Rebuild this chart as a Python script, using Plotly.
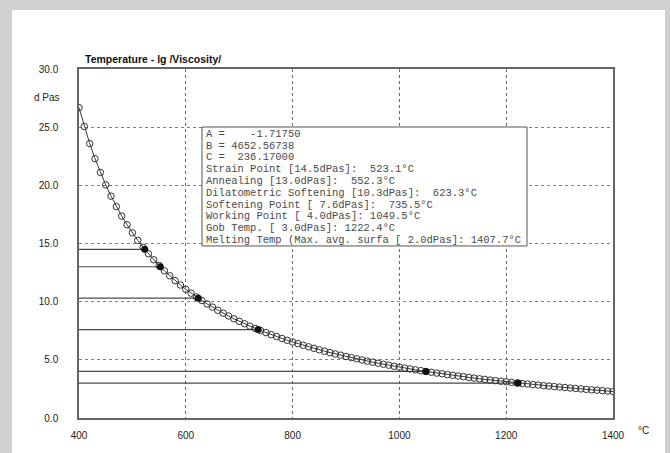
import plotly.graph_objects as go

# Viscosity curve: temperature (°C) and lg(viscosity / dPas), VFT fit
temps = [400, 410, 420, 430, 440, 450, 460, 470, 480, 490,
         500, 510, 520, 530, 540, 550, 560, 570, 580, 590,
         600, 610, 620, 630, 640, 650, 660, 670, 680, 690,
         700, 710, 720, 730, 740, 750, 760, 770, 780, 790,
         800, 810, 820, 830, 840, 850, 860, 870, 880, 890,
         900, 910, 920, 930, 940, 950, 960, 970, 980, 990,
         1000, 1010, 1020, 1030, 1040, 1050, 1060, 1070, 1080, 1090,
         1100, 1110, 1120, 1130, 1140, 1150, 1160, 1170, 1180, 1190,
         1200, 1210, 1220, 1230, 1240, 1250, 1260, 1270, 1280, 1290,
         1300, 1310, 1320, 1330, 1340, 1350, 1360, 1370, 1380, 1390, 1400]
lg_visc = [26.68, 25.05, 23.59, 22.29, 21.11, 20.04, 19.07, 18.18, 17.36, 16.61,
           15.92, 15.27, 14.67, 14.12, 13.60, 13.11, 12.65, 12.22, 11.81, 11.43,
           11.07, 10.73, 10.40, 10.10, 9.80, 9.53, 9.26, 9.01, 8.77, 8.53,
           8.31, 8.10, 7.90, 7.70, 7.52, 7.34, 7.16, 7.00, 6.84, 6.68,
           6.53, 6.39, 6.25, 6.12, 5.99, 5.86, 5.74, 5.62, 5.51, 5.40,
           5.29, 5.19, 5.09, 4.99, 4.89, 4.80, 4.71, 4.62, 4.54, 4.45,
           4.37, 4.29, 4.22, 4.14, 4.07, 4.00, 3.93, 3.86, 3.80, 3.73,
           3.67, 3.61, 3.55, 3.49, 3.43, 3.37, 3.32, 3.26, 3.21, 3.16,
           3.11, 3.06, 3.01, 2.96, 2.92, 2.87, 2.83, 2.78, 2.74, 2.70,
           2.66, 2.62, 2.58, 2.54, 2.50, 2.46, 2.42, 2.39, 2.35, 2.31, 2.28]

# Fit parameters
A, B, C = -1.71750, 4652.56738, 236.17000

# Characteristic points
point_names = ["Strain Point", "Annealing", "Dilatometric Softening",
               "Softening Point", "Working Point", "Gob Temp.",
               "Melting Temp (Max. avg. surfa"]
point_visc = [14.5, 13.0, 10.3, 7.6, 4.0, 3.0, 2.0]
point_temp = [523.1, 552.3, 623.3, 735.5, 1049.5, 1222.4, 1407.7]

x_ticks = [400, 600, 800, 1000, 1200, 1400]
y_ticks = [0, 5, 10, 15, 20, 25, 30]
X_MIN, X_MAX = 400, 1400
Y_MIN, Y_MAX = 0, 30

W, H = 670, 453
ML, MR, MT, MB = 79, 57, 69, 29
PW, PH = W - ML - MR, H - MT - MB


def px(xp):
    return (xp - ML) / PW


def py(yp):
    return (H - MB - yp) / PH


fig = go.Figure()

# horizontal marker lines from the axis to each characteristic point on the plot
for t, v in zip(point_temp, point_visc):
    if t <= X_MAX:
        fig.add_trace(go.Scatter(x=[X_MIN, t], y=[v, v], mode="lines",
                                 line=dict(color="#4a4a4a", width=1.2),
                                 hoverinfo="skip", showlegend=False))

# fitted curve
fig.add_trace(go.Scatter(
    x=temps, y=lg_visc, mode="lines+markers",
    line=dict(color="#3a3a3a", width=1),
    marker=dict(symbol="circle-open", size=6.5, color="#333333",
                line=dict(width=1, color="#333333")),
    showlegend=False))

# characteristic points
shown = [(t, v) for t, v in zip(point_temp, point_visc) if t <= X_MAX]
fig.add_trace(go.Scatter(
    x=[s[0] for s in shown], y=[s[1] for s in shown], mode="markers",
    marker=dict(symbol="circle", size=7, color="#111111"),
    showlegend=False))

shapes = [
    # white sheet on the grey frame
    dict(type="rect", xref="paper", yref="paper",
         x0=px(12), x1=px(665), y0=py(470), y1=py(9),
         fillcolor="white", line=dict(width=0), layer="below"),
    # text box
    dict(type="rect", xref="paper", yref="paper",
         x0=px(202), x1=px(527), y0=py(249), y1=py(128),
         fillcolor="white", line=dict(color="#555555", width=1), layer="above"),
]

text_lines = [
    "A =    %.5f" % A,
    "B = %.5f" % B,
    "C =  %.5f" % C,
]
fmt = ["%s [%4.1fdPas]:  %5.1f°C", "%s [%4.1fdPas]:  %5.1f°C",
       "%s [%4.1fdPas]:  %5.1f°C", "%s [%4.1fdPas]:  %5.1f°C",
       "%s [%4.1fdPas]: %6.1f°C", "%s [%4.1fdPas]: %6.1f°C",
       "%s [%4.1fdPas]: %6.1f°C"]
for f, n, v, t in zip(fmt, point_names, point_visc, point_temp):
    text_lines.append(f % (n, v, t))

annotations = []
for i, line in enumerate(text_lines):
    annotations.append(dict(
        xref="paper", yref="paper", x=px(204), y=py(135 + 12.0 * i),
        xanchor="left", yanchor="middle", showarrow=False,
        text=line.replace(" ", "&nbsp;"),
        font=dict(family="Liberation Mono", size=10.5, color="#4a4a4a")))

annotations += [
    dict(xref="paper", yref="paper", x=px(83), y=py(59), xanchor="left",
         yanchor="middle", showarrow=False, text="<b>Temperature - lg /Viscosity/</b>",
         font=dict(family="Liberation Sans", size=10.5, color="#111111")),
    dict(xref="paper", yref="paper", x=px(62), y=py(98), xanchor="right",
         yanchor="middle", showarrow=False, text="d Pas",
         font=dict(family="Liberation Sans", size=10, color="#222222")),
    dict(xref="paper", yref="paper", x=px(636), y=py(437), xanchor="left",
         yanchor="middle", showarrow=False, text="°C",
         font=dict(family="Liberation Sans", size=10, color="#222222")),
]

fig.update_layout(
    width=W, height=H,
    margin=dict(l=ML, r=MR, t=MT, b=MB, pad=0),
    paper_bgcolor="#d0d0d0",
    plot_bgcolor="white",
    shapes=shapes,
    annotations=annotations,
    font=dict(family="Liberation Sans", size=10, color="#222222"),
)

fig.update_xaxes(
    range=[X_MIN, X_MAX], tickvals=x_ticks, ticktext=[str(v) for v in x_ticks],
    showgrid=True, gridcolor="#6a6a6a", griddash="dot", gridwidth=1,
    showline=True, linecolor="#666666", linewidth=1.5, mirror=True,
    ticks="", ticklabelstandoff=7, zeroline=False,
    tickfont=dict(family="Liberation Sans", size=10, color="#222222"),
)
fig.update_yaxes(
    range=[Y_MIN, Y_MAX], tickvals=y_ticks, ticktext=["%.1f" % v for v in y_ticks],
    showgrid=True, gridcolor="#808080", griddash="dot", gridwidth=1,
    showline=True, linecolor="#666666", linewidth=1.5, mirror=True,
    ticks="", ticklabelstandoff=17, zeroline=False,
    tickfont=dict(family="Liberation Sans", size=10, color="#222222"),
)

fig.write_html("out.html")
